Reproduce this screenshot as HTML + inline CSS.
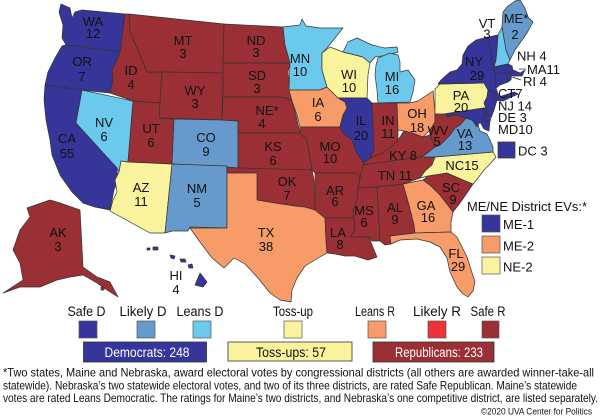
<!DOCTYPE html>
<html><head><meta charset="utf-8"><style>
html,body{margin:0;padding:0;background:#fff;}
svg{display:block;}
text{font-family:"Liberation Sans",Arial,sans-serif;fill:#111;}
.s{stroke:#333;stroke-width:0.7;stroke-linejoin:round;}
.sd{fill:#35359a}.ld{fill:#6699cc}.nd{fill:#6cc9ee}.tu{fill:#f9f39d}.nr{fill:#f79b69}.lr{fill:#ee3338}.sr{fill:#9a3035}
.m{font-size:13px;text-anchor:middle;}
.e{font-size:13px;}
</style></head><body>
<svg width="600" height="417" viewBox="0 0 600 417" xmlns="http://www.w3.org/2000/svg">
<rect width="600" height="417" fill="#fff"/>
<g class="s">
<!-- West -->
<polygon class="sd" points="61,4 70,8 72,18 75,12 82,10 125,14 120,52 104,50 90,48 78,46 66,45 62,38 63,25 59,12"/>
<polygon class="sd" points="66,45 78,46 90,48 104,50 120,52 117,60 112,70 113,80 110,93 82,90 45,85 48,72 55,58 62,46"/>
<polygon class="sd" points="45,85 82,90 76,123 117,168 118,180 114,190 112,200 110,210 95,207 83,203 72,192 60,175 52,155 50,140 46,120 44,100"/>
<polygon class="nd" points="82,90 133,101 128,162 121,161 119,172 117,168 76,123"/>
<polygon class="sr" points="125,14 129,14 130,32 137,48 143,62 147,72 162,72 160,103 133,101 110,93 113,80 112,70 117,60 120,52"/>
<polygon class="sr" points="129,14 224,24 223,73 162,72 147,72 143,62 137,48 130,32"/>
<polygon class="sr" points="162,72 223,73 222,120 159,118 160,103"/>
<polygon class="sr" points="133,101 160,103 159,118 174,119 172,164 128,162"/>
<polygon class="ld" points="174,119 222,120 238,121 238,168 172,164"/>
<polygon class="tu" points="128,162 172,164 165,233 150,233 110,211 113,200 117,192 115,180 119,172 121,161"/>
<polygon class="ld" points="172,164 227,166 227,228 190,227 188,231 172,231 165,233"/>
<!-- Plains -->
<polygon class="sr" points="224,24 283,27 285,45 290,63 223,63"/>
<polygon class="sr" points="223,63 290,63 288,72 290,90 292,101 285,98 280,97 223,97"/>
<polygon class="sr" points="223,97 280,97 285,98 292,101 296,115 300,133 238,133 238,121 222,120"/>
<polygon class="sr" points="238,133 300,133 307,140 312,170 238,168"/>
<polygon class="sr" points="227,167 238,168 312,170 314,180 315,210 305,207 295,206 275,203 257,200 257,173 227,173"/>
<polygon class="nr" points="227,173 257,173 257,200 275,203 295,206 305,207 315,210 325,218 326,240 327,253 320,257 305,266 297,278 292,290 291,302 280,300 270,293 258,278 245,264 234,258 224,268 212,258 200,242 190,228 227,228"/>
<!-- Midwest -->
<polygon class="nd" points="283,27 300,25 302,19 306,26 320,28 343,28 335,38 327,48 322,53 322,70 327,87 320,90 289,90 290,63 285,45"/>
<polygon class="nr" points="289,90 320,90 327,87 338,98 345,102 347,108 343,115 340,127 300,127 297,115 292,101"/>
<polygon class="tu" points="322,53 330,47 343,52 363,57 370,63 368,75 367,98 338,98 327,87 322,70"/>
<polygon class="nd" points="343,52 348,42 357,38 372,45 385,48 397,47 398,52 388,55 375,57 370,63 363,57"/>
<polygon class="nd" points="378,58 390,53 398,55 400,62 400,72 408,70 415,80 413,92 410,102 378,103 377,90 375,75 376,65"/>
<polygon class="sr" points="300,127 340,127 343,133 352,140 356,152 364,163 363,168 360,177 356,173 315,173 312,170 307,140 300,133"/>
<polygon class="sd" points="338,98 367,98 372,103 374,150 370,158 364,163 356,152 352,140 343,133 340,127 343,115 347,108 345,102"/>
<polygon class="sr" points="372,103 397,103 398,130 398,140 390,148 383,153 377,155 370,158 374,150"/>
<polygon class="nr" points="397,103 410,103 418,101 433,91 435,112 435,122 430,130 423,137 412,133 404,131 398,130"/>
<polygon class="sr" points="364,163 370,158 377,155 383,153 390,148 398,140 404,131 412,133 423,137 430,135 435,147 425,155 420,157 363,165"/>
<!-- South -->
<polygon class="sr" points="315,173 356,173 360,177 358,188 357,200 353,210 354,218 325,218 315,210"/>
<polygon class="sr" points="325,218 354,218 355,230 350,237 369,237 372,245 377,257 368,260 355,256 345,256 335,254 327,253 326,240"/>
<polygon class="sr" points="358,188 377,187 380,241 372,241 369,237 350,237 355,230 354,218 353,210 357,200"/>
<polygon class="sr" points="377,187 403,184 409,205 414,225 415,233 390,236 391,244 385,245 380,241"/>
<polygon class="sr" points="363,165 420,157 435,157 432,165 425,171 420,178 403,184 377,187 358,188 360,178 362,170"/>
<polygon class="nr" points="403,184 423,180 431,186 440,195 447,204 453,212 451,222 451,232 415,233 414,225 409,205"/>
<polygon class="nr" points="390,236 415,233 451,232 457,237 467,257 475,282 473,291 468,297 463,294 457,287 450,272 447,258 440,247 430,242 417,239 400,240 391,244"/>
<polygon class="sr" points="423,180 428,176 447,173 463,180 473,184 467,193 460,203 453,212 447,204 440,195 431,186"/>
<polygon class="tu" points="435,157 493,152 496,157 490,164 484,170 478,178 473,184 463,180 447,173 428,176 420,178 425,171 432,165"/>
<!-- East -->
<polygon class="ld" points="420,157 425,155 435,147 440,145 445,140 450,135 455,128 460,125 466,118 472,120 478,125 480,131 487,134 490,140 493,147 493,152 435,157"/>
<polygon class="sr" points="435,113 440,113 442,107 444,116 455,113 462,116 466,118 460,125 455,128 450,135 445,140 440,145 435,147 430,135 430,130 435,122"/>
<polygon class="tu" points="435,89 440,84 484,83 488,90 487,97 484,103 486,108 484,108 444,114 435,114"/>
<polygon class="sd" points="444,114 484,108 485,122 490,121 489,131 484,129 480,122 477,127 472,120 466,118 460,116 455,115 448,117"/>
<polygon class="sd" points="484,108 486,108 487,113 491,120 485,122"/>
<polygon class="sd" points="488,90 494,92 497,100 494,110 491,118 487,113 486,108 484,103 487,97"/>
<polygon class="sd" points="438,84 441,80 450,72 457,70 462,64 463,55 468,46 476,40 488,37 491,50 492,62 494,67 495,74 496,88 499,97 514,92 518,94 503,101 494,100 494,92 488,90 484,83 440,84"/>
<polygon class="sd" points="488,37 498,35 497,50 496,60 494,67 492,62 491,50"/>
<polygon class="nd" points="498,35 502,27 506,50 510,60 508,64 494,67 496,60 497,50"/>
<polygon class="ld" points="502,27 503,12 508,6 515,1 520,0 525,8 528,17 533,22 527,33 522,40 515,50 510,60 506,50"/>
<polygon class="sd" points="494,67 508,64 512,66 513,70 520,73 525,70 522,76 513,76 507,72 495,74"/>
<polygon class="sd" points="495,74 507,72 508,82 500,85 496,88"/>
<polygon class="sd" points="507,72 512,72 511,80 508,82"/>
<rect class="sd" x="498" y="142" width="17" height="16"/>
<!-- AK / HI -->
<polygon class="sr" points="27,208 50,200 60,203 80,210 83,267 97,277 110,282 118,297 107,290 97,283 83,275 70,277 57,280 40,287 20,287 3,293 23,280 20,263 13,250 20,230 30,217"/>
<polygon class="sr" points="101,287 104,287 104,290 101,290"/>
<polygon class="sd" points="195,285 200,273 207,282 203,287"/>
<polygon class="sd" points="188,265 192,264 193,268 189,268"/>
<polygon class="sd" points="180,259 185,259 186,262 181,262"/>
<polygon class="sd" points="170,255 175,256 174,259 171,258"/>
<polygon class="sd" points="153,247 158,247 158,250 153,250"/>
<polygon class="sd" points="147,248 150,248 150,250 147,250"/>
</g>
<line x1="519" y1="69" x2="526" y2="69" stroke="#222" stroke-width="0.7"/>
<line x1="512" y1="77" x2="521" y2="80" stroke="#222" stroke-width="0.7"/>

<!-- State labels -->
<g class="m">
<text x="93" y="26">WA</text><text x="93" y="38">12</text>
<text x="82" y="66">OR</text><text x="82" y="81">7</text>
<text x="67" y="143">CA</text><text x="67" y="158">55</text>
<text x="104" y="127">NV</text><text x="104" y="141">6</text>
<text x="131" y="75">ID</text><text x="131" y="89">4</text>
<text x="183" y="45">MT</text><text x="183" y="58">3</text>
<text x="256" y="45">ND</text><text x="256" y="57">3</text>
<text x="257" y="80">SD</text><text x="257" y="93">3</text>
<text x="195" y="95">WY</text><text x="195" y="108">3</text>
<text x="267" y="115">NE*</text><text x="262" y="128">4</text>
<text x="151" y="133">UT</text><text x="151" y="147">6</text>
<text x="206" y="142">CO</text><text x="206" y="156">9</text>
<text x="273" y="151">KS</text><text x="273" y="165">6</text>
<text x="287" y="186">OK</text><text x="287" y="200">7</text>
<text x="141" y="192">AZ</text><text x="141" y="206">11</text>
<text x="197" y="193">NM</text><text x="197" y="207">5</text>
<text x="266" y="237">TX</text><text x="266" y="251">38</text>
<text x="58" y="237">AK</text><text x="58" y="251">3</text>
<text x="176" y="280">HI</text><text x="176" y="294">4</text>
<text x="300" y="63">MN</text><text x="300" y="76">10</text>
<text x="349" y="79">WI</text><text x="349" y="92">10</text>
<text x="392" y="81">MI</text><text x="392" y="94">16</text>
<text x="318" y="107">IA</text><text x="318" y="121">6</text>
<text x="361" y="125">IL</text><text x="361" y="140">20</text>
<text x="388" y="125">IN</text><text x="388" y="138">11</text>
<text x="417" y="118">OH</text><text x="417" y="132">18</text>
<text x="438" y="135">WV</text><text x="437" y="146">5</text>
<text x="465" y="138">VA</text><text x="465" y="150">13</text>
<text x="461" y="100">PA</text><text x="461" y="112">20</text>
<text x="474" y="66">NY</text><text x="477" y="80">29</text>
<text x="330" y="151">MO</text><text x="330" y="163">10</text>
<text x="403" y="160">KY 8</text>
<text x="395" y="180">TN 11</text>
<text x="462" y="170">NC15</text>
<text x="335" y="195">AR</text><text x="335" y="206">6</text>
<text x="364" y="215">MS</text><text x="364" y="227">6</text>
<text x="395" y="212">AL</text><text x="395" y="224">9</text>
<text x="426" y="210">GA</text><text x="428" y="222">16</text>
<text x="451" y="192">SC</text><text x="453" y="204">9</text>
<text x="338" y="237">LA</text><text x="340" y="249">8</text>
<text x="456" y="258">FL</text><text x="458" y="271">29</text>
<text x="487" y="28">VT</text><text x="487" y="38.5">3</text>
<text x="516" y="23">ME*</text><text x="515" y="39">2</text>
</g>
<g class="e">
<text x="517" y="60.5">NH 4</text>
<text x="527" y="74">MA11</text>
<text x="523" y="86">RI 4</text>
<text x="498" y="98">CT7</text>
<text x="498" y="110.5">NJ 14</text>
<text x="498" y="122">DE 3</text>
<text x="498" y="134">MD10</text>
<text x="518" y="155.5">DC 3</text>
</g>

<!-- ME/NE district legend -->
<text x="467" y="211" font-size="13" textLength="120" lengthAdjust="spacingAndGlyphs">ME/NE District EVs:*</text>
<g stroke="#555" stroke-width="0.7">
<rect class="sd" x="482" y="215" width="18" height="17"/>
<rect class="nr" x="482" y="236" width="18" height="17"/>
<rect class="tu" x="482" y="257" width="18" height="17"/>
</g>
<text x="503" y="229" font-size="13">ME-1</text>
<text x="503" y="250.5" font-size="13">ME-2</text>
<text x="503" y="271.5" font-size="13">NE-2</text>

<!-- Main legend -->
<g font-size="13.5" text-anchor="middle">
<text x="86.5" y="316" textLength="38" lengthAdjust="spacingAndGlyphs">Safe D</text>
<text x="143" y="316" textLength="47" lengthAdjust="spacingAndGlyphs">Likely D</text>
<text x="200" y="316" textLength="47" lengthAdjust="spacingAndGlyphs">Leans D</text>
<text x="293" y="316" textLength="40" lengthAdjust="spacingAndGlyphs">Toss-up</text>
<text x="375" y="316" textLength="40" lengthAdjust="spacingAndGlyphs">Leans R</text>
<text x="437" y="316" textLength="48" lengthAdjust="spacingAndGlyphs">Likely R</text>
<text x="488" y="316" textLength="35" lengthAdjust="spacingAndGlyphs">Safe R</text>
</g>
<g stroke="#555" stroke-width="0.7">
<rect class="sd" x="79" y="321" width="18" height="17"/>
<rect class="ld" x="137" y="321" width="18" height="17"/>
<rect class="nd" x="193" y="321" width="18" height="17"/>
<rect class="tu" x="284" y="321" width="18" height="17"/>
<rect class="nr" x="368" y="321" width="18" height="17"/>
<rect class="lr" x="428" y="321" width="18" height="17"/>
<rect class="sr" x="482" y="321" width="17" height="17"/>
</g>
<g stroke="#333" stroke-width="0.8">
<rect class="sd" x="83.5" y="342" width="123" height="20"/>
<rect class="tu" x="228" y="342" width="124" height="19"/>
<rect class="sr" x="373" y="342" width="121" height="20"/>
</g>
<g font-size="14" text-anchor="middle">
<text x="147" y="357" style="fill:#fff" textLength="85" lengthAdjust="spacingAndGlyphs">Democrats: 248</text>
<text x="291" y="357" textLength="70" lengthAdjust="spacingAndGlyphs">Toss-ups: 57</text>
<text x="439" y="357" style="fill:#fff" textLength="88" lengthAdjust="spacingAndGlyphs">Republicans: 233</text>
</g>

<!-- Footnote -->
<g font-size="12">
<text x="3" y="376.5" textLength="591" lengthAdjust="spacingAndGlyphs">*Two states, Maine and Nebraska, award electoral votes by congressional districts (all others are awarded winner-take-all</text>
<text x="3" y="389.5" textLength="574" lengthAdjust="spacingAndGlyphs">statewide). Nebraska’s two statewide electoral votes, and two of its three districts, are rated Safe Republican. Maine’s statewide</text>
<text x="3" y="402" textLength="595" lengthAdjust="spacingAndGlyphs">votes are rated Leans Democratic. The ratings for Maine’s two districts, and Nebraska’s one competitive district, are listed separately.</text>
</g>
<text x="481" y="414.5" font-size="9" textLength="111" lengthAdjust="spacingAndGlyphs">©2020 UVA Center for Politics</text>
</svg>
</body></html>
